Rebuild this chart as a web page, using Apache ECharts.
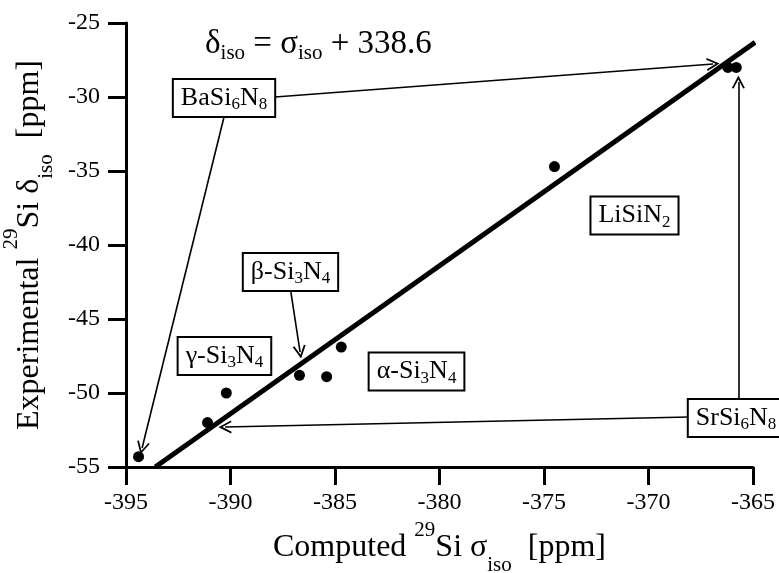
<!DOCTYPE html>
<html>
<head>
<meta charset="utf-8">
<script src="https://cdn.jsdelivr.net/npm/echarts@6/dist/echarts.min.js"></script>
<style>
  html, body { margin: 0; padding: 0; background: #fff; }
  #chart { width: 779px; height: 573px; }
</style>
</head>
<body>
<div id="chart"></div>
<script>
// 29Si NMR: computed isotropic shielding vs. experimental isotropic shift
const computedSigma     = [-394.4, -391.1, -390.2, -386.7, -385.4, -384.7, -374.5, -366.2, -365.8];
const experimentalDelta = [-54.3,  -52.0,  -50.0,  -48.8,  -48.9,  -46.9,  -34.7,  -28.0,  -28.0];

// reference line delta = sigma + offset, drawn across this sigma span
const fitOffset = 338.6;
const fitRange = [-393.6, -364.9];

const xTicks = [-395, -390, -385, -380, -375, -370, -365];
const yTicks = [-55, -50, -45, -40, -35, -30, -25];

// compound labels (rich-text markup for subscripts)
const compoundLabels = ['BaSi{s|6}N{s|8}', 'SrSi{s|6}N{s|8}', 'β-Si{s|3}N{s|4}', 'γ-Si{s|3}N{s|4}', 'α-Si{s|3}N{s|4}', 'LiSiN{s|2}'];

// label box centres in data space
const labelAt = [
  [-390.31, -30.07],
  [-365.81, -51.69],
  [-387.13, -41.82],
  [-390.29, -47.50],
  [-381.10, -48.55],
  [-370.67, -38.01]
];

// arrows from label boxes to their points: [start, end]
const arrows = [
  [[-387.87, -30.00], [-366.91, -27.77]],
  [[-390.31, -31.35], [-394.23, -53.72]],
  [[-365.70, -50.40], [-365.70, -28.99]],
  [[-368.06, -51.62], [-390.26, -52.30]],
  [[-387.11, -43.18], [-386.67, -47.23]]
];

const FONT = 'Liberation Serif';

const subRich = {
  s: { fontFamily: FONT, fontSize: 17, lineHeight: 14, verticalAlign: 'bottom', color: '#000',
       textBorderWidth: 0, textBorderColor: 'transparent' }
};

const points = computedSigma.map((x, i) => [x, experimentalDelta[i]]);
const fitLine = fitRange.map(x => [x, +(x + fitOffset).toFixed(2)]);
const labelData = compoundLabels.map((t, i) => ({ value: labelAt[i], name: t }));
const arrowData = arrows.map(a => ({ coords: a }));

const chevron = 'path://M5,0 L10,13 L8.7,13.6 L5,4 L1.3,13.6 L0,13 Z';

const axisNameStyle = {
  fontFamily: FONT,
  fontSize: 32,
  color: '#000',
  lineHeight: 56,
  rich: {
    sup: { fontFamily: FONT, fontSize: 21, lineHeight: 22, verticalAlign: 'top', color: '#000' },
    sub: { fontFamily: FONT, fontSize: 21, lineHeight: 14, verticalAlign: 'bottom', color: '#000' }
  }
};

const chart = echarts.init(document.getElementById('chart'), null, { renderer: 'canvas' });

chart.setOption({
  animation: false,
  backgroundColor: '#fff',
  title: {
    text: 'δ{s|iso} = σ{s|iso} + ' + fitOffset,
    left: 200,
    top: 19,
    textStyle: {
      fontFamily: FONT,
      fontSize: 33,
      fontWeight: 'normal',
      color: '#000',
      lineHeight: 40,
      rich: {
        s: { fontFamily: FONT, fontSize: 21, lineHeight: 18, verticalAlign: 'bottom', color: '#000' }
      }
    }
  },
  grid: {
    left: 126,
    right: 26,
    top: 23,
    bottom: 106,
    containLabel: false,
    outerBoundsMode: 'none'
  },
  xAxis: {
    type: 'value',
    min: xTicks[0],
    max: xTicks[xTicks.length - 1],
    interval: xTicks[1] - xTicks[0],
    axisLine: { show: true, onZero: false, lineStyle: { color: '#000', width: 3 } },
    axisTick: { show: true, inside: false, length: 18, lineStyle: { color: '#000', width: 3 } },
    splitLine: { show: false },
    axisLabel: { fontFamily: FONT, fontSize: 24, color: '#000', margin: 24 },
    name: 'Computed {sup|29}Si σ{sub|iso}  [ppm]',
    nameLocation: 'middle',
    nameGap: 46,
    nameTextStyle: axisNameStyle
  },
  yAxis: {
    type: 'value',
    min: yTicks[0],
    max: yTicks[yTicks.length - 1],
    interval: yTicks[1] - yTicks[0],
    axisLine: { show: true, onZero: false, lineStyle: { color: '#000', width: 3 } },
    axisTick: { show: true, inside: false, length: 18, lineStyle: { color: '#000', width: 3 } },
    splitLine: { show: false },
    axisLabel: { fontFamily: FONT, fontSize: 24, color: '#000', margin: 26 },
    name: 'Experimental {sup|29}Si δ{sub|iso}  [ppm]',
    nameLocation: 'middle',
    nameRotate: 90,
    nameGap: 57,
    nameTextStyle: axisNameStyle
  },
  series: [
    {
      name: 'fit',
      type: 'line',
      data: fitLine,
      symbol: 'none',
      lineStyle: { color: '#000', width: 5, cap: 'butt' },
      silent: true,
      z: 3
    },
    {
      name: 'points',
      type: 'scatter',
      data: points,
      symbol: 'circle',
      symbolSize: 11,
      itemStyle: { color: '#000', opacity: 1 },
      z: 4
    },
    {
      name: 'arrows',
      type: 'lines',
      coordinateSystem: 'cartesian2d',
      data: arrowData,
      symbol: ['none', chevron],
      symbolSize: [10, 13],
      lineStyle: { color: '#000', width: 1.6, opacity: 1, curveness: 0 },
      silent: true,
      z: 5
    },
    {
      name: 'labels',
      type: 'scatter',
      data: labelData,
      symbolSize: 1,
      itemStyle: { color: 'rgba(0,0,0,0)', opacity: 1 },
      silent: true,
      clip: false,
      z: 6,
      label: {
        show: true,
        position: 'inside',
        formatter: p => p.name,
        fontFamily: FONT,
        fontSize: 26,
        color: '#000',
        opacity: 1,
        lineHeight: 30,
        textBorderWidth: 0,
        textBorderColor: 'transparent',
        backgroundColor: '#fff',
        borderColor: '#000',
        borderWidth: 2,
        padding: [3, 7, 3, 7],
        rich: subRich
      }
    }
  ]
});
</script>
</body>
</html>
